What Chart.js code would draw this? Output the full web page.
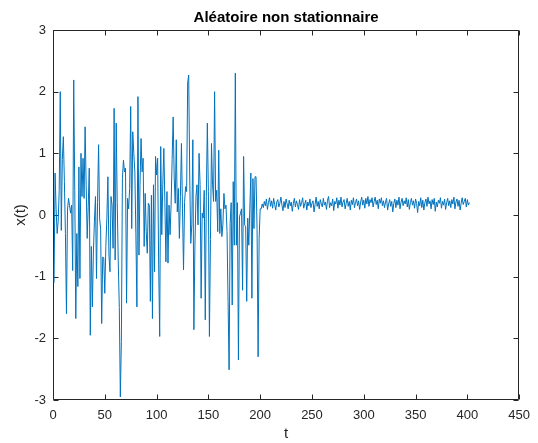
<!DOCTYPE html>
<html>
<head>
<meta charset="utf-8">
<script src="https://cdn.jsdelivr.net/npm/chart.js@4/dist/chart.umd.min.js"></script>
<style>
  html, body { margin: 0; padding: 0; background: #ffffff; }
  #wrap { width: 538px; height: 443px; }
</style>
</head>
<body>
<div id="wrap"><canvas id="chart" width="538" height="443"></canvas></div>
<script>
// noisy first half (t = 1..200)
const noisyPart = [
    -1.1, 0.68, 0.1, -0.3, -0.1, 0.4, 2.0, -0.25, 0.9, 1.27,
    0.54, -0.3, -1.6, 0.08, 0.27, 0.15, 0.03, 0.16, -0.9, 2.19,
    0.4, -1.68, -0.3, -1.16, 0.78, -1.03, 1.0, 0.3, 0.92, 0.27,
    1.43, 0.5, -0.38, 0.14, 0.76, -1.95, -0.51, -1.49, -0.6, -0.1,
    0.3, -1.03, 0.2, 1.14, -0.05, -0.24, -1.76, -0.68, -0.7, -1.27,
    -0.51, -0.05, 0.62, -0.65, -0.92, 0.3, 0.16, -0.54, 1.73, -0.73,
    1.49, 0.2, -0.76, -1.5, -2.95, -2.05, 0.59, 0.89, 0.7, 0.76,
    -1.43, 0.27, 0.1, 0.43, 1.76, -0.22, 1.35, 1.0, 0.7, -0.3,
    -1.49, 1.92, -0.65, 0.5, 1.24, 0.7, 0.92, -0.51, 0.35, -0.27,
    -0.62, 0.19, 0.16, -1.4, 0.32, -1.68, 0.49, -0.92, 0.95, 0.65,
    0.92, -0.81, -1.97, 1.11, -0.32, 0.5, 1.08, 0.2, -0.76, 0.38,
    -0.78, 0.16, -0.32, 0.16, 0.9, 1.59, 0.6, 0.19, 1.22, 0.05,
    0.43, -0.38, 0.3, 1.16, 0.1, -0.89, 0.2, 0.46, 0.38, 2.14,
    2.27, 0.6, -0.46, -0.16, 1.22, -1.86, -0.5, 0.3, 0.49, -0.16,
    1.0, 0.49, -1.35, 0.03, -0.05, 0.4, -1.7, 0.3, 1.49, 0.38,
    -1.97, -0.4, 1.16, 0.5, 0.22, 2.0, 0.22, 0.4, -0.27, 1.05,
    -0.3, 0.1, -0.35, -0.16, 0.35, 0.1, 0.16, -0.27, -1.4, -2.51,
    -0.14, 0.2, -1.46, 0.54, -0.49, 2.3, -0.49, 0.2, -2.35, -0.03,
    0.03, 0.1, -1.22, 0.95, -0.16, -0.19, -1.4, -0.05, -0.49, 0.1,
    0.68, -1.35, 0.59, -0.22, 0.62, 0.62, -0.24, -2.3, -0.38, 0.1
];

// calm second half (t = 201..402)
const calmPart = [
    0.10, 0.18, 0.12, 0.22, 0.15, 0.26, 0.09, 0.20, 0.28, 0.14, 0.23, 0.11, 0.27, 0.17, 0.08, 0.21, 0.25, 0.13, 0.19, 0.29,
    0.16, 0.07, 0.22, 0.12, 0.26, 0.18, 0.10, 0.24, 0.15, 0.21, 0.06, 0.19, 0.27, 0.13, 0.23, 0.17, 0.09, 0.25, 0.14, 0.20,
    0.28, 0.11, 0.18, 0.24, 0.08, 0.21, 0.15, 0.26, 0.12, 0.19, 0.23, 0.05, 0.17, 0.29, 0.14, 0.22, 0.10, 0.25, 0.18, 0.13,
    0.27, 0.16, 0.21, 0.09, 0.24, 0.30, 0.12, 0.20, 0.15, 0.26, 0.07, 0.22, 0.18, 0.28, 0.11, 0.24, 0.16, 0.29, 0.13, 0.21,
    0.25, 0.10, 0.19, 0.27, 0.14, 0.22, 0.08, 0.24, 0.17, 0.28, 0.12, 0.20, 0.26, 0.15, 0.23, 0.09, 0.21, 0.29, 0.16, 0.24,
    0.11, 0.27, 0.18, 0.30, 0.14, 0.25, 0.20, 0.28, 0.13, 0.22, 0.29, 0.17, 0.24, 0.10, 0.26, 0.19, 0.28, 0.15, 0.23, 0.12,
    0.21, 0.27, 0.08, 0.18, 0.25, 0.14, 0.22, 0.05, 0.19, 0.26, 0.12, 0.24, 0.16, 0.29, 0.10, 0.21, 0.27, 0.15, 0.23, 0.18,
    0.28, 0.13, 0.25, 0.09, 0.20, 0.27, 0.16, 0.23, 0.11, 0.26, 0.19, 0.04, 0.22, 0.15, 0.28, 0.12, 0.24, 0.08, 0.20, 0.26,
    0.14, 0.29, 0.18, 0.23, 0.10, 0.25, 0.17, 0.27, 0.06, 0.21, 0.13, 0.24, 0.19, 0.28, 0.11, 0.22, 0.16, 0.26, 0.09, 0.20,
    0.27, 0.15, 0.23, 0.12, 0.25, 0.18, 0.29, 0.10, 0.21, 0.26, 0.14, 0.24, 0.08, 0.19, 0.28, 0.17, 0.22, 0.27, 0.13, 0.25,
    0.16, 0.20
];

const xTicks = [0, 50, 100, 150, 200, 250, 300, 350, 400, 450];
const yTicks = [-3, -2, -1, 0, 1, 2, 3];

const values = noisyPart.concat(calmPart);
const points = values.map((v, i) => ({ x: i + 1, y: v }));

const fontFamily = "'Liberation Sans', Arial, Helvetica, sans-serif";
const axisColor = "#262626";

// matlab style box with inward ticks
const boxPlugin = {
    id: "box",
    beforeDatasetsDraw(chart) {
        const { ctx, chartArea: a, scales } = chart;
        const l = Math.round(a.left) + 0.5;
        const r = Math.round(a.right) - 0.5;
        const t = Math.round(a.top) + 0.5;
        const b = Math.round(a.bottom) - 0.5;
        ctx.save();
        ctx.strokeStyle = axisColor;
        ctx.lineWidth = 1;
        ctx.beginPath();
        ctx.rect(l, t, r - l, b - t);
        xTicks.forEach(v => {
            const px = Math.round(scales.x.getPixelForValue(v)) + 0.5;
            ctx.moveTo(px, b); ctx.lineTo(px, b - 5);
            ctx.moveTo(px, t); ctx.lineTo(px, t + 5);
        });
        yTicks.forEach(v => {
            const py = Math.round(scales.y.getPixelForValue(v)) + 0.5;
            ctx.moveTo(l, py); ctx.lineTo(l + 5, py);
            ctx.moveTo(r, py); ctx.lineTo(r - 5, py);
        });
        ctx.stroke();
        ctx.restore();
    }
};

new Chart(document.getElementById("chart"), {
    type: "line",
    data: {
        datasets: [{
            data: points,
            borderColor: "#0072BD",
            borderWidth: 1,
            pointRadius: 0,
            tension: 0,
            fill: false
        }]
    },
    options: {
        responsive: false,
        animation: false,
        layout: { padding: { left: 0, right: 16, top: 0, bottom: 0 } },
        plugins: {
            legend: { display: false },
            tooltip: { enabled: false },
            title: {
                display: true,
                fullSize: false,
                text: "Aléatoire non stationnaire",
                color: "#000000",
                font: { family: fontFamily, size: 15, weight: "bold" },
                padding: { top: 9, bottom: 3 }
            }
        },
        scales: {
            x: {
                type: "linear",
                min: 0,
                max: 450,
                afterFit: s => { s.height = 43; },
                afterBuildTicks: s => { s.ticks = xTicks.map(v => ({ value: v })); },
                grid: { display: false, drawTicks: false },
                border: { display: false },
                ticks: {
                    color: axisColor,
                    padding: 8,
                    maxRotation: 0,
                    font: { family: fontFamily, size: 13 }
                },
                title: {
                    display: true,
                    text: "t",
                    color: axisColor,
                    padding: { top: 0, bottom: 0 },
                    font: { family: fontFamily, size: 15 }
                }
            },
            y: {
                type: "linear",
                min: -3,
                max: 3,
                afterFit: s => { s.width = 53; },
                afterBuildTicks: s => { s.ticks = yTicks.map(v => ({ value: v })); },
                grid: { display: false, drawTicks: false },
                border: { display: false },
                ticks: {
                    color: axisColor,
                    padding: 7,
                    font: { family: fontFamily, size: 13 }
                },
                title: {
                    display: true,
                    text: "x(t)",
                    color: axisColor,
                    padding: { top: 12, bottom: 0 },
                    font: { family: fontFamily, size: 15 }
                }
            }
        }
    },
    plugins: [boxPlugin]
});
</script>
</body>
</html>
